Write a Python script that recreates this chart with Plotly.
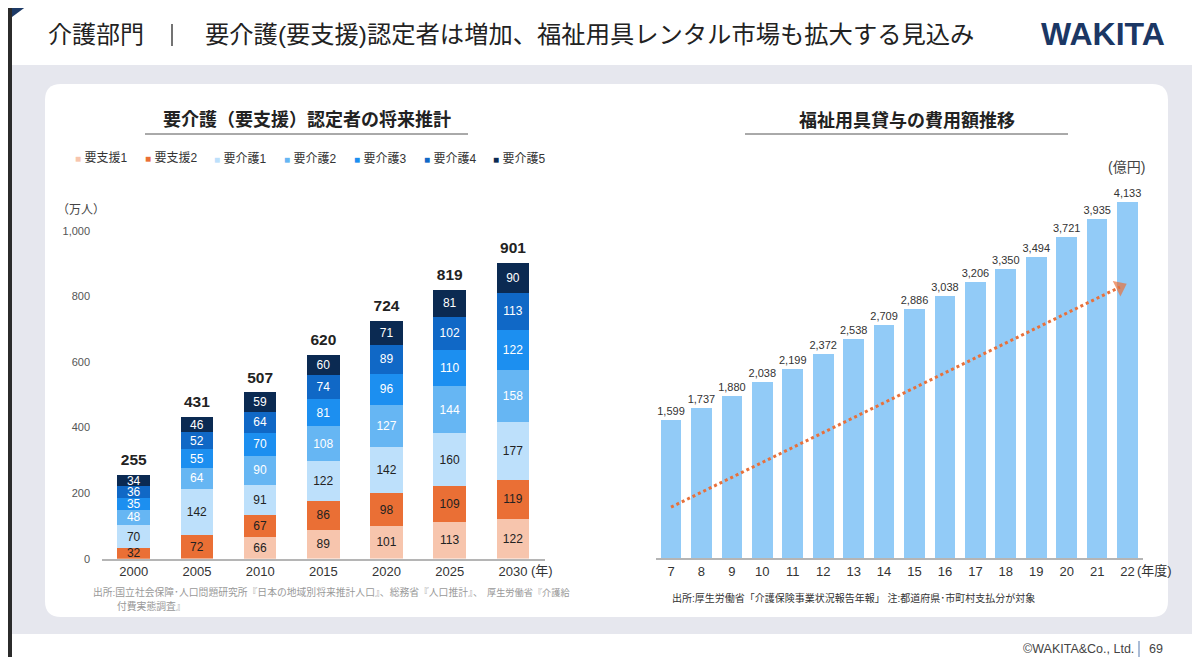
import plotly.graph_objects as go

# ---------------- data ----------------
years = ["2000", "2005", "2010", "2015", "2020", "2025", "2030"]
series_names = ["要支援1", "要支援2", "要介護1", "要介護2", "要介護3", "要介護4", "要介護5"]
shien1 = [0, 0, 66, 89, 101, 113, 122]
shien2 = [32, 72, 67, 86, 98, 109, 119]
kaigo1 = [70, 142, 91, 122, 142, 160, 177]
kaigo2 = [48, 64, 90, 108, 127, 144, 158]
kaigo3 = [35, 55, 70, 81, 96, 110, 122]
kaigo4 = [36, 52, 64, 74, 89, 102, 113]
kaigo5 = [34, 46, 59, 60, 71, 81, 90]
left_yticks = [0, 200, 400, 600, 800, 1000]

fiscal_years = [7, 8, 9, 10, 11, 12, 13, 14, 15, 16, 17, 18, 19, 20, 21, 22]
rental_cost = [1599, 1737, 1880, 2038, 2199, 2372, 2538, 2709, 2886, 3038,
               3206, 3350, 3494, 3721, 3935, 4133]
trend_x = [7, 21.75]
trend_y = [590, 3145]

# ---------------- styles ----------------
W, H = 1200, 657
OX, OY = 8, 8  # page offset of the figure inside the browser window
FONT = "Liberation Sans, Noto Sans CJK JP, sans-serif"
colors = ["#f7c5ad", "#ea6f35", "#bde0fb", "#66b6f3", "#1c8ff0", "#1068c6", "#0b2a52"]
text_colors = ["#222222", "#222222", "#222222", "#ffffff", "#ffffff", "#ffffff", "#ffffff"]


def fx(x):
    return (x - OX) / W


def fy(y):
    return 1 - (y - OY) / H


fig = go.Figure()

left_series = [shien1, shien2, kaigo1, kaigo2, kaigo3, kaigo4, kaigo5]
for name, vals, c, tc in zip(series_names, left_series, colors, text_colors):
    fig.add_trace(go.Bar(
        x=years, y=vals, name=name, marker=dict(color=c, line=dict(width=0)),
        width=0.517,
        text=[f"{v}" if v else "" for v in vals],
        textposition="inside", insidetextanchor="middle", textangle=0,
        constraintext="none",
        insidetextfont=dict(size=12, color=tc, family=FONT),
        xaxis="x", yaxis="y", showlegend=False, hoverinfo="skip",
    ))

totals = [sum(v) for v in zip(*left_series)]
fig.add_trace(go.Scatter(
    x=years, y=totals, mode="markers+text", text=[f"{t:,}" for t in totals],
    textposition="top center", marker=dict(size=8, opacity=0),
    textfont=dict(size=15.5, color="#222222", family=FONT, weight="bold"),
    xaxis="x", yaxis="y", showlegend=False, cliponaxis=False, hoverinfo="skip",
))

fig.add_trace(go.Bar(
    x=fiscal_years, y=rental_cost, width=0.68,
    marker=dict(color="#92cbf7", line=dict(width=0)),
    texttemplate="%{y:,}", textposition="outside", constraintext="none",
    outsidetextfont=dict(size=11, color="#333333", family=FONT),
    cliponaxis=False, xaxis="x2", yaxis="y2", showlegend=False, hoverinfo="skip",
))

fig.add_trace(go.Scatter(
    x=trend_x, y=trend_y, mode="lines+markers",
    line=dict(color="#e8703a", width=3, dash="dot"),
    marker=dict(symbol=["circle", "triangle-up"], size=[11, 15], color="#e8703a",
                angleref="previous", line=dict(width=0)),
    xaxis="x2", yaxis="y2", showlegend=False, cliponaxis=False, hoverinfo="skip",
))

# ---------------- shapes ----------------
shapes = []
shapes.append(dict(type="rect", xref="paper", yref="paper", x0=0, x1=1, y0=fy(65), y1=1,
                   fillcolor="white", line=dict(width=0), layer="below"))
shapes.append(dict(type="rect", xref="paper", yref="paper", x0=0, x1=1, y0=0, y1=fy(634),
                   fillcolor="white", line=dict(width=0), layer="below"))
shapes.append(dict(type="rect", xref="paper", yref="paper", x0=fx(0), x1=fx(12), y0=0, y1=1,
                   fillcolor="#2b2b2b", line=dict(width=0), layer="below"))
shapes.append(dict(type="path", xref="paper", yref="paper",
                   path=f"M {fx(12)},{fy(0)} L {fx(35)},{fy(0)} L {fx(12)},{fy(17)} Z",
                   fillcolor="#1d3a66", line=dict(width=0), layer="below"))
x0, y0, x1, y1, r = 45, 84, 1168, 617, 16
panel = (f"M {fx(x0 + r)},{fy(y0)} L {fx(x1 - r)},{fy(y0)} Q {fx(x1)},{fy(y0)} {fx(x1)},{fy(y0 + r)} "
         f"L {fx(x1)},{fy(y1 - r)} Q {fx(x1)},{fy(y1)} {fx(x1 - r)},{fy(y1)} "
         f"L {fx(x0 + r)},{fy(y1)} Q {fx(x0)},{fy(y1)} {fx(x0)},{fy(y1 - r)} "
         f"L {fx(x0)},{fy(y0 + r)} Q {fx(x0)},{fy(y0)} {fx(x0 + r)},{fy(y0)} Z")
shapes.append(dict(type="path", xref="paper", yref="paper", path=panel,
                   fillcolor="white", line=dict(width=0), layer="below"))
shapes.append(dict(type="line", xref="paper", yref="paper", x0=fx(172), x1=fx(172),
                   y0=fy(24), y1=fy(46), line=dict(color="#444444", width=1.5)))
shapes.append(dict(type="line", xref="paper", yref="paper", x0=fx(145), x1=fx(468),
                   y0=fy(134), y1=fy(134), line=dict(color="#555555", width=1)))
shapes.append(dict(type="line", xref="paper", yref="paper", x0=fx(745), x1=fx(1068),
                   y0=fy(134), y1=fy(134), line=dict(color="#555555", width=1)))
shapes.append(dict(type="line", xref="paper", yref="paper", x0=fx(1139), x1=fx(1139),
                   y0=fy(641), y1=fy(657), line=dict(color="#8fa6c8", width=1.5)))

# ---------------- annotations ----------------
ann = []


def txt(x, y, s, size, color="#222222", anchor="left", weight="normal", family=FONT):
    ann.append(dict(xref="paper", yref="paper", x=fx(x), y=fy(y), text=s, showarrow=False,
                    xanchor=anchor, yanchor="middle",
                    font=dict(size=size, color=color, family=family, weight=weight)))


txt(46, 34, "介護部門", 24)
txt(203, 34, "要介護(要支援)認定者は増加、福祉用具レンタル市場も拡大する見込み", 24.3)
txt(1167, 34, "WAKITA", 32, color="#1b3764", anchor="right", weight="bold",
    family="Liberation Sans, Arial, sans-serif")
txt(307, 120, "要介護（要支援）認定者の将来推計", 18, weight="bold", anchor="center")
txt(907, 120, "福祉用具貸与の費用額推移", 18, weight="bold", anchor="center")

for i, (name, c) in enumerate(zip(series_names, colors)):
    txt(73 + i * 69.7, 158,
        f"<span style='color:{c};font-size:10px'>■</span> {name}", 12, color="#333333")

txt(55, 210, "（万人）", 12, color="#444444")
txt(529, 570, "(年)", 13, color="#333333")
txt(1106, 167, "(億円)", 14, color="#444444")
txt(1135, 570, "(年度)", 13, color="#333333")

txt(91, 592, "出所:国立社会保障･人口問題研究所『日本の地域別将来推計人口』、総務省『人口推計』、",
    9.8, color="#999999")
txt(485, 592, "厚生労働省『介護給", 9.2, color="#999999")
txt(115, 606, "付費実態調査』", 9.8, color="#999999")
txt(670, 598, "出所:厚生労働省「介護保険事業状況報告年報」 注:都道府県･市町村支払分が対象", 10, color="#333333")

txt(1136, 649, "©WAKITA&Co., Ltd.", 12.5, color="#444444", anchor="right")
txt(1147, 649, "69", 12.5, color="#444444")

# ---------------- layout ----------------
fig.update_layout(
    width=W, height=H, autosize=False,
    margin=dict(l=0, r=0, t=0, b=0, pad=0, autoexpand=False),
    paper_bgcolor="#e6e7ee", plot_bgcolor="rgba(0,0,0,0)",
    font=dict(family=FONT, color="#333333"),
    barmode="stack",
    showlegend=False,
    shapes=shapes, annotations=ann,
    xaxis=dict(domain=[fx(102.1), fx(544.6)], type="category", range=[-0.5, 6.5],
               showline=True, linecolor="#b5b5b5", linewidth=2, ticks="",
               showgrid=False, zeroline=False,
               tickfont=dict(size=13, color="#333333"), anchor="y", fixedrange=True),
    yaxis=dict(domain=[fy(558.7), fy(230.7)], range=[0, 1000], tickvals=left_yticks,
               tickformat=",", showgrid=False, zeroline=False, showline=False,
               ticklabelstandoff=11,
               tickfont=dict(size=11, color="#555555"), anchor="x", fixedrange=True),
    xaxis2=dict(domain=[fx(655.8), fx(1142.8)], range=[6.5, 22.5], tickvals=fiscal_years,
                showline=True, linecolor="#b5b5b5", linewidth=2, ticks="",
                showgrid=False, zeroline=False,
                tickfont=dict(size=13, color="#333333"), anchor="y2", fixedrange=True),
    yaxis2=dict(domain=[fy(558), fy(170.3)], range=[0, 4500], visible=False,
                anchor="x2", fixedrange=True),
)

fig.write_html("out.html")
